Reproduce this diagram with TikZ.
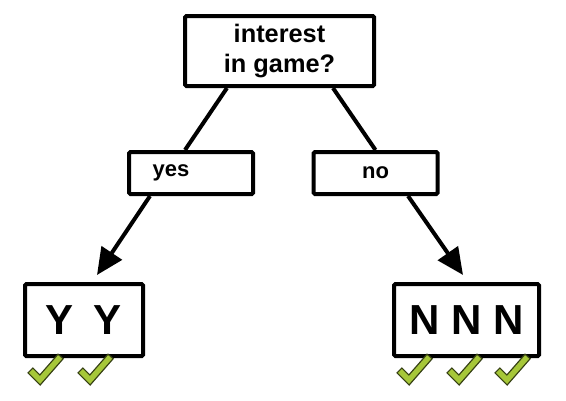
\documentclass[tikz,border=0pt]{standalone}
\usepackage{fontspec}
\setmainfont{Liberation Sans}
\usetikzlibrary{arrows.meta}
\definecolor{tickfill}{RGB}{166,199,57}
\definecolor{tickline}{RGB}{55,65,20}
\tikzset{
    box/.style={draw, line width=3pt, rounded corners=1pt, inner sep=0pt, font=\bfseries},
    branch/.style={box, minimum width=93pt, minimum height=31.5pt, font=\bfseries\fontsize{16.5}{20}\selectfont},
    leaf/.style={box, minimum height=54pt, font=\bfseries\fontsize{31.5}{36}\selectfont},
    arr/.style={line width=3pt, -{Triangle[length=20pt, width=18pt]}},
    tick/.pic={
        \draw[line width=6pt, draw=tickline, miter limit=4] (-10,-10) -- (0,0) -- (21,-24);
        \draw[line width=4pt, draw=tickfill, miter limit=4, shorten <=1pt, shorten >=1pt] (-10,-10) -- (0,0) -- (21,-24);
    }
}
\begin{document}
\begin{tikzpicture}[x=0.75pt, y=-0.75pt]
            \useasboundingbox (0,0) rectangle (566,400);

            \def\ya{51};
            \def\yb{173};
            \def\yc{320};
            \def\yt{380};

            \node[box, minimum width=141.75pt, minimum height=52.5pt, align=center,
                font=\bfseries\fontsize{19}{23}\selectfont] (q) at (279.5, \ya) {interest\\in game?};
            \node[branch] (yes) at (191, \yb) {yes\hspace*{30pt}};
            \node[branch] (no) at (375.5, \yb) {no};
            \node[leaf, minimum width=88.5pt] (ys) at (84, \yc) {Y\hspace{15pt}Y};
            \node[leaf, minimum width=108.75pt] (ns) at (466.5, \yc) {N N N};

            \draw[line width=3pt] ([xshift=-39.4pt]q.south) -- ([xshift=-4.5pt]yes.north);
            \draw[line width=3pt] ([xshift=40.1pt]q.south) -- (no.north);
            \draw[arr] ([xshift=-30.75pt]yes.south) -- ([xshift=9.75pt, yshift=5.25pt]ys.north);
            \draw[arr] ([xshift=24.4pt]no.south) -- ([xshift=-2.6pt, yshift=5.25pt]ns.north);

            \pic at (40, \yt) {tick};
            \pic at (90, \yt) {tick};
            \pic at (409, \yt) {tick};
            \pic at (459, \yt) {tick};
            \pic at (507, \yt) {tick};
        \end{tikzpicture}
\end{document}
